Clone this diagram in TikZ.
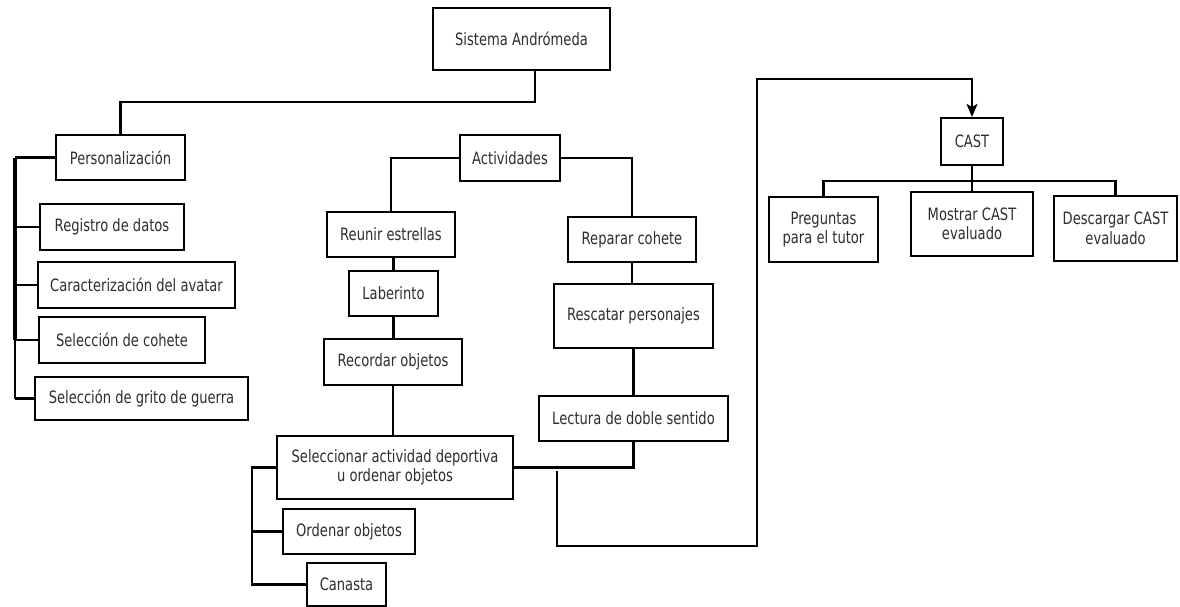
\documentclass[tikz,border=0pt]{standalone}
\usepackage{fontspec}
\setmainfont{DejaVu Sans}[FakeStretch=0.77]
\usetikzlibrary{arrows.meta}
\begin{document}
\begin{tikzpicture}[x=1pt,y=-1pt,
  box/.style={draw=black, line width=2.1pt, rectangle, inner sep=2pt, align=center,
              font=\fontsize{17}{19.5}\selectfont, text=black!82},
  conn/.style={draw=black, line width=2.1pt},
  thickbus/.style={draw=black, line width=3.8pt},
  arr/.style={-{Stealth[length=13pt,width=11pt,inset=3pt]}}
]
\useasboundingbox[fill=white] (0,0) rectangle (1180,607);

% top
\node[box, minimum width=177pt, minimum height=62pt] (sist) at (521.5,39) {Sistema Andrómeda};

% Personalizacion branch
\node[box, minimum width=129pt, minimum height=45pt] (pers) at (120.5,157.5) {Personalización};
\node[box, minimum width=144pt, minimum height=46pt] (reg) at (112,227) {Registro de datos};
\node[box, minimum width=197pt, minimum height=46pt] (car) at (136.5,285) {Caracterización del avatar};
\node[box, minimum width=166pt, minimum height=46pt] (coh) at (122,340) {Selección de cohete};
\node[box, minimum width=213pt, minimum height=43pt] (gri) at (141.5,398.5) {Selección de grito de guerra};

% Actividades branch
\node[box, minimum width=100pt, minimum height=46pt] (act) at (510,158) {Actividades};
\node[box, minimum width=128pt, minimum height=45pt] (reu) at (391,234.5) {Reunir estrellas};
\node[box, minimum width=89pt, minimum height=45pt] (lab) at (393.5,293.5) {Laberinto};
\node[box, minimum width=138pt, minimum height=46pt] (rec) at (393,362) {Recordar objetos};
\node[box, minimum width=236pt, minimum height=63pt] (sel) at (395,467.5) {Seleccionar actividad deportiva\\u ordenar objetos};
\node[box, minimum width=132pt, minimum height=45pt] (ord) at (349,531.5) {Ordenar objetos};
\node[box, minimum width=79pt, minimum height=43pt] (can) at (346.5,584.5) {Canasta};
\node[box, minimum width=128pt, minimum height=45pt] (rep) at (632,239.5) {Reparar cohete};
\node[box, minimum width=159pt, minimum height=64pt] (res) at (633.5,316) {Rescatar personajes};
\node[box, minimum width=189pt, minimum height=45pt] (lec) at (633.5,418.5) {Lectura de doble sentido};

% CAST branch
\node[box, minimum width=62pt, minimum height=47pt] (cast) at (972,141.5) {CAST};
\node[box, minimum width=109pt, minimum height=65pt] (pre) at (823.5,229.5) {Preguntas\\para el tutor};
\node[box, minimum width=122pt, minimum height=64pt] (mos) at (972,224) {Mostrar CAST\\evaluado};
\node[box, minimum width=123pt, minimum height=65pt] (des) at (1115.5,228.5) {Descargar CAST\\evaluado};

% coordinates
\coordinate (busT) at (15,157.5);
\coordinate (busM) at (15,340);
\coordinate (busB) at (15,398.5);
\coordinate (sb) at (252,467.5);
\coordinate (jn) at (557,471);
\coordinate (jb) at (757,546);
\coordinate (jt) at (757,79);
\coordinate (cb) at (972,181);

% connectors: top
\draw[conn] ([xshift=13.5pt]sist.south) -- ++(0,31) -| (pers.north);

% Personalizacion bus
\draw[conn] (pers.west) -- (busT);
\draw[thickbus] (busT) -- (busM);
\draw[conn] (busM) -- (busB);
\draw[conn] (reg.west -| busT) -- (reg.west);
\draw[conn] (car.west -| busT) -- (car.west);
\draw[conn] (coh.west -| busT) -- (coh.west);
\draw[conn] (busB) -- (gri.west);

% Actividades
\draw[conn] (act.west) -| (reu.north);
\draw[conn] (act.east) -| (rep.north);
\draw[conn] (lab.north |- reu.south) -- (lab.north);
\draw[conn] (lab.south) -- (lab.south |- rec.north);
\draw[conn] (rec.south) -- (rec.south |- sel.north);
\draw[conn] (rep.south) -- (rep.south |- res.north);
\draw[conn] (res.south) -- (res.south |- lec.north);
\draw[conn] (lec.south) |- (sel.east);
\draw[conn] (sel.west) -- (sb) |- (can.west);
\draw[conn] (sb |- ord.west) -- (ord.west);

% route to CAST
\draw[conn, arr] (jn) |- (jb) -- (jt) -| (cast.north);

% CAST children
\draw[conn] (cast.south) -- (cb);
\draw[conn] (pre.north) |- (cb) -| (des.north);
\draw[conn] (cb) -- (mos.north);
\end{tikzpicture}
\end{document}
